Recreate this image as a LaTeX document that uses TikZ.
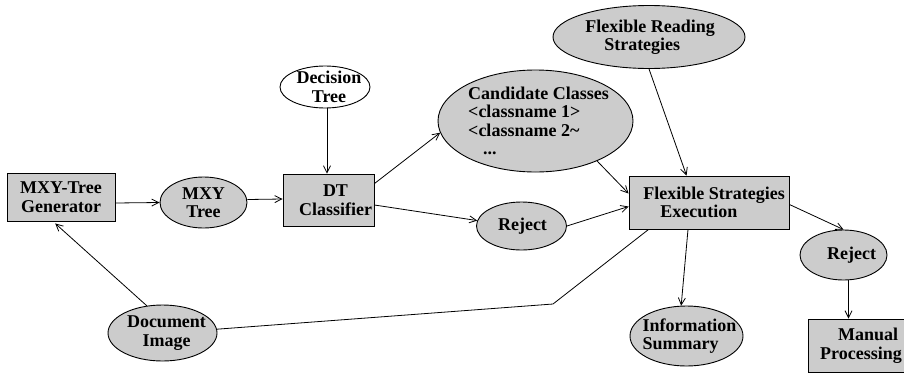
\documentclass[tikz,border=0pt]{standalone}
\usepackage{fontspec}
\setmainfont{Liberation Serif}
\usetikzlibrary{shapes.geometric,arrows.meta}
\tikzset{
  every label/.style={font=\bfseries\fontsize{18}{18.5}\selectfont, inner sep=0pt, align=left},
  procbox/.style={draw, line width=0.9pt, fill=black!20, rectangle, inner sep=0pt},
  dataell/.style={draw, line width=0.9pt, fill=black!20, ellipse, inner sep=0pt},
  srcell/.style={draw, line width=0.9pt, fill=white, ellipse, inner sep=0pt},
  flow/.style={line width=0.8pt, -{Straight Barb[length=7pt,width=7pt]}},
  plain/.style={line width=0.8pt},
}
\begin{document}
\begin{tikzpicture}[x=1pt,y=-1pt]
\useasboundingbox (0,0) rectangle (904,375);

% processing boxes
\node[procbox, minimum width=108pt, minimum height=48pt,
  label={[align=center]center:{MXY-Tree\\Generator}}] (gen) at (61,197) {};
\node[procbox, minimum width=91pt, minimum height=52pt,
  label={[align=center, xshift=7pt]center:{DT\\Classifier}}] (dt) at (328.5,200) {};
\node[procbox, minimum width=160pt, minimum height=53pt,
  label={[xshift=5pt]center:{Flexible Strategies\\\hspace*{17pt}Execution}}] (fse) at (709,202.5) {};
\node[procbox, minimum width=100pt, minimum height=53pt,
  label={[xshift=3pt]center:{\hspace*{18pt}Manual\\Processing}}] (man) at (858,345.5) {};

% data ellipses
\node[dataell, minimum width=87pt, minimum height=51pt,
  label={[align=center]center:{MXY\\Tree}}] (mxy) at (203.5,202.5) {};
\node[srcell, minimum width=90pt, minimum height=42pt,
  label={[align=center, xshift=4pt]center:{Decision\\Tree}}] (dtree) at (325,87) {};
\node[dataell, minimum width=195pt, minimum height=102pt,
  label={[xshift=3pt]center:{Candidate Classes\\{<}classname 1{>}\\{<}classname 2\~{}\\\hspace*{15pt}...}}] (cand) at (535.5,121) {};
\node[dataell, minimum width=192pt, minimum height=63pt,
  label={[xshift=1pt]center:{Flexible Reading\\\hspace*{19pt}Strategies}}] (frs) at (649,37) {};
\node[dataell, minimum width=90pt, minimum height=48pt,
  label={[xshift=1pt]center:{Reject}}] (rej1) at (521.5,226) {};
\node[dataell, minimum width=87pt, minimum height=50pt,
  label={[xshift=8pt]center:{Reject}}] (rej2) at (843.5,255) {};
\node[dataell, minimum width=113pt, minimum height=60pt,
  label={[xshift=3pt]center:{Information\\Summary}}] (info) at (686.5,336) {};
\node[dataell, minimum width=109pt, minimum height=56pt,
  label={[align=center, xshift=4pt]center:{Document\\Image}}] (doc) at (162.5,333) {};

% bend of the document-image line
\coordinate (bend) at (553,304);

% connectors
\draw[flow] ([yshift=-6pt]gen.east) -- (mxy.west);
\draw[flow] ([yshift=3pt]mxy.east) -- ([yshift=1pt]dt.west);
\draw[flow] ([xshift=2pt]dtree.south) -- ([xshift=2pt]dtree.south |- dt.north);
\draw[flow] ([yshift=-10pt]dt.north east) -- (cand.187);
\draw[flow] ([yshift=-5pt]dt.east) -- (rej1.173);
\draw[flow] (rej1.east) -- ([yshift=-4pt]fse.west);
\draw[flow] (cand.-33) -- ([yshift=9pt]fse.west);
\draw[flow] (frs.south) -- ([xshift=58pt]fse.north west);
\draw[flow] ([yshift=-2pt]fse.east) -- (rej2.north);
\draw[flow] ([xshift=-21pt]fse.south) -- (info.100);
\draw[flow] ([xshift=5pt]rej2.south) -- ([xshift=5pt]rej2.south |- man.north);
\draw[flow, shorten >=3pt] (doc.120) -- ([xshift=-8pt]gen.south);
\draw[plain] (doc.4) -- (bend) -- ([xshift=20pt]fse.south west);
\end{tikzpicture}
\end{document}
